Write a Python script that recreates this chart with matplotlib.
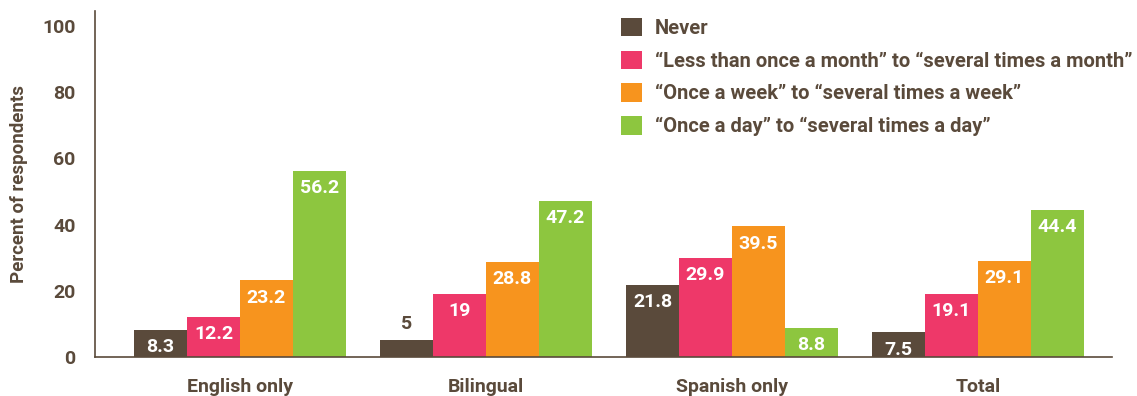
import numpy as np
import matplotlib
matplotlib.use("Agg")
import matplotlib.pyplot as plt
from matplotlib.patches import Patch

BROWN = "#5a4a3b"

groups = ["English only", "Bilingual", "Spanish only", "Total"]
series = [
    "Never",
    "\u201cLess than once a month\u201d to \u201cseveral times a month\u201d",
    "\u201cOnce a week\u201d to \u201cseveral times a week\u201d",
    "\u201cOnce a day\u201d to \u201cseveral times a day\u201d",
]
never = [8.3, 5, 21.8, 7.5]
monthly = [12.2, 19, 29.9, 19.1]
weekly = [23.2, 28.8, 39.5, 29.1]
daily = [56.2, 47.2, 8.8, 44.4]
colors = [BROWN, "#ee3869", "#f7941e", "#8dc63f"]
yticks = [0, 20, 40, 60, 80, 100]

plt.rcParams.update({
    "font.family": "Roboto",
    "font.weight": "bold",
    "axes.labelweight": "bold",
    "font.size": 14,
    "text.color": BROWN,
    "axes.labelcolor": BROWN,
    "axes.edgecolor": BROWN,
    "xtick.color": BROWN,
    "ytick.color": BROWN,
})

fig = plt.figure(figsize=(11.37, 3.96), dpi=100)
ax = fig.add_axes([0.0836, 0.0985, 0.8944, 0.8735])

x = np.arange(len(groups))
w = 0.215
for k, (vals, col) in enumerate(zip([never, monthly, weekly, daily], colors)):
    xs = x + (k - 1.5) * w
    ax.bar(xs, vals, width=w, color=col, linewidth=0)
    for xi, v in zip(xs, vals):
        txt = f"{v:g}"
        if v < 6:
            # too short to hold its label, so put it above in dark text
            ax.annotate(txt, (xi, v), xytext=(0, 5), textcoords="offset points",
                        ha="center", va="bottom", color=BROWN, fontsize=14)
        else:
            ax.annotate(txt, (xi, v), xytext=(0, -6), textcoords="offset points",
                        ha="center", va="top", color="white", fontsize=14)

ax.set_xlim(-0.589, 3.545)
ax.set_ylim(0, 104.5)
ax.set_yticks(yticks)
ax.set_xticks(x)
ax.set_xticklabels(groups)
ax.tick_params(axis="both", length=0, labelsize=14)
ax.tick_params(axis="x", pad=15)
ax.tick_params(axis="y", pad=14)
ax.set_ylabel("Percent of respondents", fontsize=13.5, labelpad=10)
for s in ["top", "right"]:
    ax.spines[s].set_visible(False)
ax.spines["left"].set_linewidth(1.2)
ax.spines["bottom"].set_linewidth(1.2)

handles = [Patch(facecolor=c, edgecolor="none") for c in colors]
fig.legend(handles, series, loc="upper left", bbox_to_anchor=(0.546, 0.955),
           frameon=False, borderpad=0, borderaxespad=0, handlelength=1.05,
           handleheight=1.05, handletextpad=0.65, labelspacing=0.62, fontsize=14.5)

fig.savefig("out.png", dpi=100)
